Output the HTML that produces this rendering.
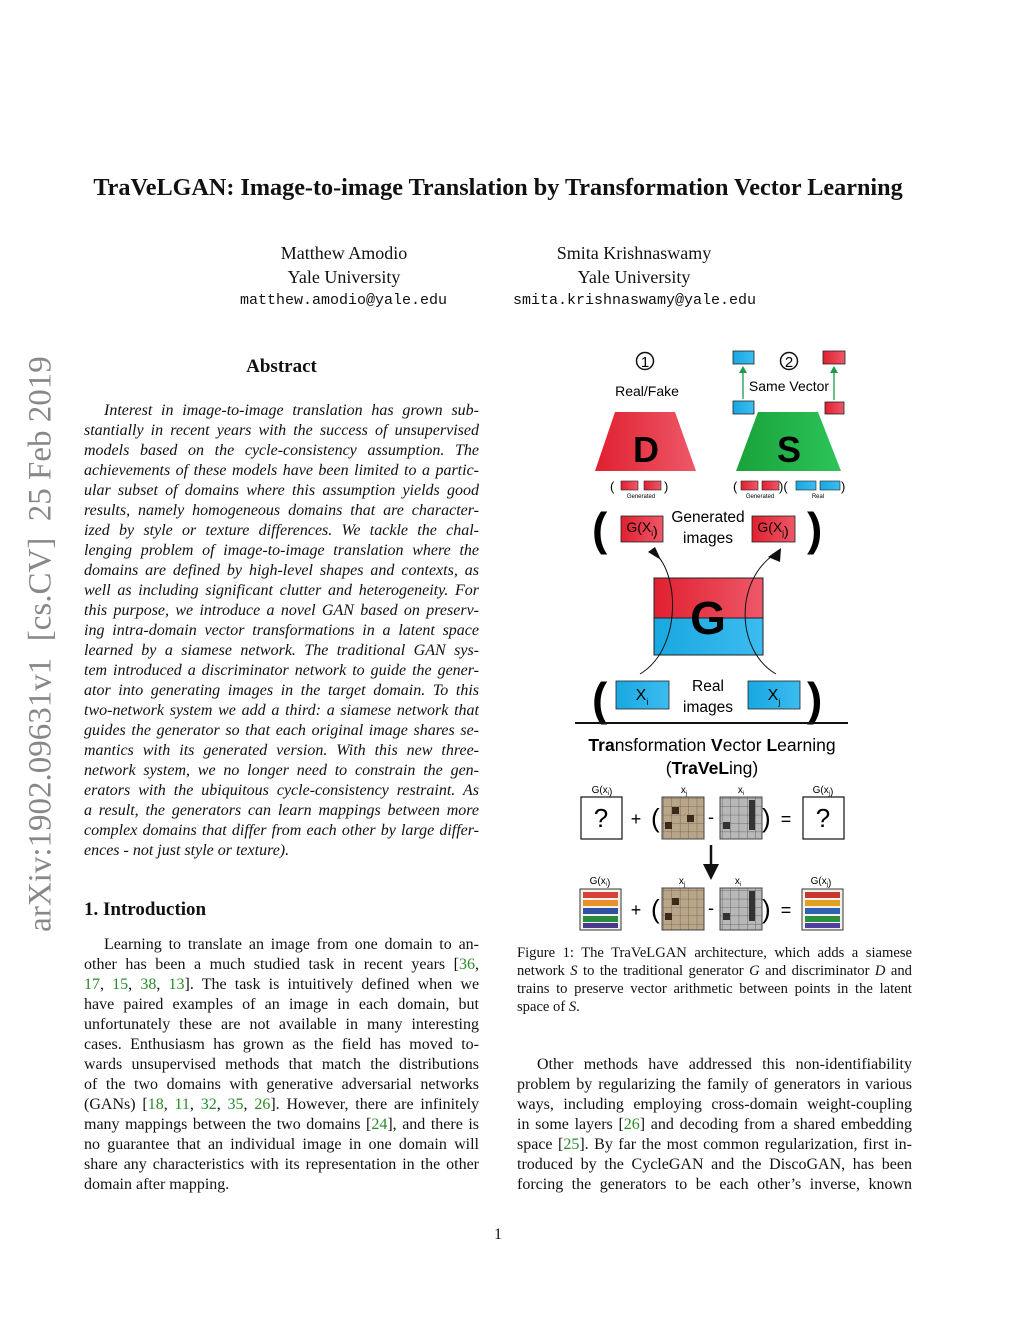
<!DOCTYPE html>
<html><head><meta charset="utf-8"><style>
body{margin:0;background:#fff;}
#p{position:relative;width:1024px;height:1325px;overflow:hidden;font-family:"Liberation Serif",serif;color:#111;}
.a{position:absolute;white-space:nowrap;}
.l{position:absolute;width:395px;font-size:16px;line-height:20px;height:20px;text-align:justify;text-align-last:justify;white-space:nowrap;}
.l.e{text-align-last:left;}
.i{font-style:italic;}
.c{color:#2a8a2a;}
.cap{position:absolute;width:395px;font-size:14.6px;line-height:18px;text-align:justify;text-align-last:justify;white-space:nowrap;}
.cap.e{text-align-last:left;}
</style></head><body><div id="p">
<div class="a" style="left:0;width:996px;text-align:center;top:174px;font-size:24.2px;font-weight:bold;">TraVeLGAN: Image-to-image Translation by Transformation Vector Learning</div>
<div class="a" style="left:244px;width:200px;text-align:center;top:241px;font-size:18px;line-height:24px;">Matthew Amodio<br>Yale University</div>
<div class="a" style="left:534px;width:200px;text-align:center;top:241px;font-size:18px;line-height:24px;">Smita Krishnaswamy<br>Yale University</div>
<div class="a" style="left:240px;top:292px;font-family:'Liberation Mono',monospace;font-size:15px;">matthew.amodio@yale.edu</div>
<div class="a" style="left:513px;top:292px;font-family:'Liberation Mono',monospace;font-size:15px;">smita.krishnaswamy@yale.edu</div>
<div class="a" style="left:41px;top:644px;transform:translate(-50%,-50%) rotate(-90deg);font-size:33px;color:#888;">arXiv:1902.09631v1&nbsp; [cs.CV]&nbsp; 25 Feb 2019</div>

<div class="a" style="left:84px;width:395px;text-align:center;top:356px;font-size:19px;font-weight:bold;">Abstract</div>
<div class="i">
<div class="l" style="left:84px;top:401px;padding-left:20px;width:375px;">Interest in image-to-image translation has grown sub-</div>
<div class="l" style="left:84px;top:421px;">stantially in recent years with the success of unsupervised</div>
<div class="l" style="left:84px;top:441px;">models based on the cycle-consistency assumption. The</div>
<div class="l" style="left:84px;top:461px;">achievements of these models have been limited to a partic-</div>
<div class="l" style="left:84px;top:481px;">ular subset of domains where this assumption yields good</div>
<div class="l" style="left:84px;top:501px;">results, namely homogeneous domains that are character-</div>
<div class="l" style="left:84px;top:521px;">ized by style or texture differences. We tackle the chal-</div>
<div class="l" style="left:84px;top:541px;">lenging problem of image-to-image translation where the</div>
<div class="l" style="left:84px;top:561px;">domains are defined by high-level shapes and contexts, as</div>
<div class="l" style="left:84px;top:581px;">well as including significant clutter and heterogeneity. For</div>
<div class="l" style="left:84px;top:601px;">this purpose, we introduce a novel GAN based on preserv-</div>
<div class="l" style="left:84px;top:621px;">ing intra-domain vector transformations in a latent space</div>
<div class="l" style="left:84px;top:641px;">learned by a siamese network. The traditional GAN sys-</div>
<div class="l" style="left:84px;top:661px;">tem introduced a discriminator network to guide the gener-</div>
<div class="l" style="left:84px;top:681px;">ator into generating images in the target domain. To this</div>
<div class="l" style="left:84px;top:701px;">two-network system we add a third: a siamese network that</div>
<div class="l" style="left:84px;top:721px;">guides the generator so that each original image shares se-</div>
<div class="l" style="left:84px;top:741px;">mantics with its generated version. With this new three-</div>
<div class="l" style="left:84px;top:761px;">network system, we no longer need to constrain the gen-</div>
<div class="l" style="left:84px;top:781px;">erators with the ubiquitous cycle-consistency restraint. As</div>
<div class="l" style="left:84px;top:801px;">a result, the generators can learn mappings between more</div>
<div class="l" style="left:84px;top:821px;">complex domains that differ from each other by large differ-</div>
<div class="l e" style="left:84px;top:841px;">ences - not just style or texture).</div>
</div>

<div class="a" style="left:84px;top:899px;font-size:19px;font-weight:bold;">1. Introduction</div>
<div class="l" style="left:84px;top:935px;padding-left:20px;width:375px;">Learning to translate an image from one domain to an-</div>
<div class="l" style="left:84px;top:955px;">other has been a much studied task in recent years [<span class="c">36</span>,</div>
<div class="l" style="left:84px;top:975px;"><span class="c">17</span>, <span class="c">15</span>, <span class="c">38</span>, <span class="c">13</span>]. The task is intuitively defined when we</div>
<div class="l" style="left:84px;top:995px;">have paired examples of an image in each domain, but</div>
<div class="l" style="left:84px;top:1015px;">unfortunately these are not available in many interesting</div>
<div class="l" style="left:84px;top:1035px;">cases. Enthusiasm has grown as the field has moved to-</div>
<div class="l" style="left:84px;top:1055px;">wards unsupervised methods that match the distributions</div>
<div class="l" style="left:84px;top:1075px;">of the two domains with generative adversarial networks</div>
<div class="l" style="left:84px;top:1095px;">(GANs) [<span class="c">18</span>, <span class="c">11</span>, <span class="c">32</span>, <span class="c">35</span>, <span class="c">26</span>]. However, there are infinitely</div>
<div class="l" style="left:84px;top:1115px;">many mappings between the two domains [<span class="c">24</span>], and there is</div>
<div class="l" style="left:84px;top:1135px;">no guarantee that an individual image in one domain will</div>
<div class="l" style="left:84px;top:1155px;">share any characteristics with its representation in the other</div>
<div class="l e" style="left:84px;top:1175px;">domain after mapping.</div>

<div class="cap" style="left:517px;top:944px;">Figure 1: The TraVeLGAN architecture, which adds a siamese</div>
<div class="cap" style="left:517px;top:962px;">network <i>S</i> to the traditional generator <i>G</i> and discriminator <i>D</i> and</div>
<div class="cap" style="left:517px;top:980px;">trains to preserve vector arithmetic between points in the latent</div>
<div class="cap e" style="left:517px;top:998px;">space of <i>S</i>.</div>

<div class="l" style="left:517px;top:1055px;padding-left:20px;width:375px;">Other methods have addressed this non-identifiability</div>
<div class="l" style="left:517px;top:1075px;">problem by regularizing the family of generators in various</div>
<div class="l" style="left:517px;top:1095px;">ways, including employing cross-domain weight-coupling</div>
<div class="l" style="left:517px;top:1115px;">in some layers [<span class="c">26</span>] and decoding from a shared embedding</div>
<div class="l" style="left:517px;top:1135px;">space [<span class="c">25</span>]. By far the most common regularization, first in-</div>
<div class="l" style="left:517px;top:1155px;">troduced by the CycleGAN and the DiscoGAN, has been</div>
<div class="l" style="left:517px;top:1175px;">forcing the generators to be each other’s inverse, known</div>
<div class="a" style="left:494px;top:1226px;font-size:16px;">1</div>

<svg class="a" style="left:0;top:0" width="1024" height="1325" viewBox="0 0 1024 1325" font-family="Liberation Sans, sans-serif">
<defs>
<linearGradient id="r" x1="0" x2="1"><stop offset="0" stop-color="#e02030"/><stop offset="1" stop-color="#ee5868"/></linearGradient>
<linearGradient id="b" x1="0" x2="1"><stop offset="0" stop-color="#18a8e0"/><stop offset="1" stop-color="#3cbcf0"/></linearGradient>
<linearGradient id="g" x1="0" x2="1"><stop offset="0" stop-color="#19a23a"/><stop offset="1" stop-color="#2cc45a"/></linearGradient>
<pattern id="tile" width="8.4" height="8.4" patternUnits="userSpaceOnUse"><rect width="8.4" height="8.4" fill="#b9a58a"/><path d="M0 0H8.4V8.4" fill="none" stroke="#6e5c48" stroke-width="0.8"/></pattern>
<pattern id="tile2" width="8.4" height="8.4" patternUnits="userSpaceOnUse"><rect width="8.4" height="8.4" fill="#b8b8b8"/><path d="M0 0H8.4V8.4" fill="none" stroke="#555" stroke-width="0.8"/></pattern>
</defs>
<circle cx="645" cy="361" r="8.5" fill="none" stroke="#111" stroke-width="1.5"/><text x="645" y="367" font-size="15" text-anchor="middle">1</text>
<circle cx="789" cy="361" r="8.5" fill="none" stroke="#111" stroke-width="1.5"/><text x="789" y="367" font-size="15" text-anchor="middle">2</text>
<text x="647" y="396" font-size="14" text-anchor="middle">Real/Fake</text>
<text x="789" y="391" font-size="14" text-anchor="middle">Same Vector</text>
<rect x="733" y="351" width="21" height="13" fill="url(#b)" stroke="#222" stroke-width="0.8"/>
<rect x="733" y="401" width="21" height="13" fill="url(#b)" stroke="#222" stroke-width="0.8"/>
<rect x="823" y="351" width="22" height="13" fill="url(#r)" stroke="#222" stroke-width="0.8"/>
<rect x="825" y="402" width="19" height="12" fill="url(#r)" stroke="#222" stroke-width="0.8"/>
<path d="M743 399V372M834 400V372" stroke="#1a9a4a" stroke-width="1.3"/>
<path d="M739 373L743 366L747 373ZM830 373L834 366L838 373Z" fill="#1a9a4a"/>
<path d="M615 412H675L696 471H595Z" fill="url(#r)"/>
<text x="646" y="462" font-size="36" font-weight="bold" text-anchor="middle">D</text>
<path d="M758 412H818L841 471H736Z" fill="url(#g)"/>
<text x="789" y="462" font-size="36" font-weight="bold" text-anchor="middle">S</text>
<g font-size="13">
<text x="610" y="491">(</text><text x="664" y="491">)</text>
<text x="733" y="491">(</text><text x="779" y="491">)(</text><text x="841" y="491">)</text></g>
<rect x="621" y="481" width="17" height="9" fill="url(#r)" stroke="#222" stroke-width="0.6"/>
<rect x="644" y="481" width="17" height="9" fill="url(#r)" stroke="#222" stroke-width="0.6"/>
<rect x="741" y="481" width="17" height="9" fill="url(#r)" stroke="#222" stroke-width="0.6"/>
<rect x="762" y="481" width="17" height="9" fill="url(#r)" stroke="#222" stroke-width="0.6"/>
<rect x="796" y="481" width="20" height="9" fill="url(#b)" stroke="#222" stroke-width="0.6"/>
<rect x="820" y="481" width="20" height="9" fill="url(#b)" stroke="#222" stroke-width="0.6"/>
<g font-size="6" text-anchor="middle"><text x="641" y="498">Generated</text><text x="760" y="498">Generated</text><text x="818" y="498">Real</text></g>
<g font-size="46" font-weight="bold" font-family="Liberation Sans, sans-serif"><text x="592" y="545">(</text><text x="807" y="545">)</text><text x="592" y="715">(</text><text x="807" y="715">)</text></g>
<rect x="621" y="516" width="42" height="26" fill="url(#r)" stroke="#222" stroke-width="0.8"/>
<rect x="752" y="516" width="43" height="26" fill="url(#r)" stroke="#222" stroke-width="0.8"/>
<text x="642" y="532" font-size="14" text-anchor="middle">G(X<tspan font-size="8" dy="4">i</tspan>)</text>
<text x="773" y="532" font-size="14" text-anchor="middle">G(X<tspan font-size="8" dy="4">j</tspan>)</text>
<text x="708" y="522" font-size="15.5" text-anchor="middle">Generated</text>
<text x="708" y="543" font-size="15.5" text-anchor="middle">images</text>
<rect x="654" y="578" width="109" height="40" fill="url(#r)" stroke="#222" stroke-width="1"/>
<rect x="654" y="618" width="109" height="37" fill="url(#b)" stroke="#222" stroke-width="1"/>
<text x="708" y="634" font-size="46" font-weight="bold" text-anchor="middle">G</text>
<path d="M640 674C680 650 680 580 657 555M776 674C735 650 735 580 775 554" fill="none" stroke="#111" stroke-width="1"/>
<path d="M648 552L655 547L661 560ZM768 557L781 548L780 562Z" fill="#111"/>
<rect x="616" y="681" width="53" height="28" fill="url(#b)" stroke="#222" stroke-width="0.8"/>
<rect x="748" y="681" width="52" height="28" fill="url(#b)" stroke="#222" stroke-width="0.8"/>
<text x="642" y="700" font-size="16" text-anchor="middle">X<tspan font-size="9" dy="5">i</tspan></text>
<text x="774" y="700" font-size="16" text-anchor="middle">X<tspan font-size="9" dy="5">j</tspan></text>
<text x="708" y="691" font-size="15.5" text-anchor="middle">Real</text>
<text x="708" y="712" font-size="15.5" text-anchor="middle">images</text>
<path d="M575 723H848" stroke="#111" stroke-width="2"/>
<text x="712" y="751" font-size="17.5" text-anchor="middle"><tspan font-weight="bold">Tra</tspan>nsformation <tspan font-weight="bold">V</tspan>ector <tspan font-weight="bold">L</tspan>earning</text>
<text x="712" y="774" font-size="17.5" text-anchor="middle">(<tspan font-weight="bold">TraVeL</tspan>ing)</text>
<g font-size="10" text-anchor="middle"><text x="602" y="793">G(x<tspan font-size="6" dy="2">i</tspan>)</text><text x="684" y="793">x<tspan font-size="6" dy="2">j</tspan></text><text x="741" y="793">x<tspan font-size="6" dy="2">i</tspan></text><text x="823" y="793">G(x<tspan font-size="6" dy="2">j</tspan>)</text>
<text x="600" y="884">G(x<tspan font-size="6" dy="2">i</tspan>)</text><text x="682" y="884">x<tspan font-size="6" dy="2">j</tspan></text><text x="738" y="884">x<tspan font-size="6" dy="2">i</tspan></text><text x="821" y="884">G(x<tspan font-size="6" dy="2">j</tspan>)</text></g>
<rect x="581" y="797" width="41" height="42" fill="#fff" stroke="#111" stroke-width="1.2"/>
<rect x="803" y="797" width="41" height="42" fill="#fff" stroke="#111" stroke-width="1.2"/>
<text x="601" y="827" font-size="26" text-anchor="middle">?</text><text x="823" y="827" font-size="26" text-anchor="middle">?</text>
<rect x="662" y="797" width="42" height="42" fill="url(#tile)" stroke="#444"/>
<rect x="720" y="797" width="42" height="42" fill="url(#tile2)" stroke="#444"/>
<rect x="662" y="888" width="42" height="42" fill="url(#tile)" stroke="#444"/>
<rect x="720" y="888" width="42" height="42" fill="url(#tile2)" stroke="#444"/>
<g fill="#3a2a1a"><rect x="672" y="807" width="7" height="7"/><rect x="687" y="815" width="7" height="7"/><rect x="665" y="822" width="7" height="7"/><rect x="672" y="898" width="7" height="7"/><rect x="665" y="913" width="7" height="7"/></g>
<g fill="#333"><rect x="749" y="800" width="6" height="30"/><rect x="723" y="822" width="7" height="7"/><rect x="749" y="891" width="6" height="30"/><rect x="723" y="913" width="7" height="7"/></g>
<g font-size="18" text-anchor="middle"><text x="636" y="825">+</text><text x="636" y="916">+</text><text x="711" y="823">-</text><text x="711" y="914">-</text><text x="786" y="825">=</text><text x="786" y="916">=</text></g>
<g font-size="26"><text x="651" y="827">(</text><text x="762" y="827">)</text><text x="651" y="918">(</text><text x="762" y="918">)</text></g>
<path d="M711 845V866" stroke="#111" stroke-width="2.5"/><path d="M703 864H719L711 880Z" fill="#111"/>
<g stroke="#333"><rect x="580" y="889" width="41" height="41" fill="#f4f0ea"/><rect x="802" y="889" width="41" height="41" fill="#f4f0ea"/></g>
<g>
<rect x="583" y="892" width="35" height="6" fill="#d8403a"/><rect x="583" y="900" width="35" height="6" fill="#e8902a"/><rect x="583" y="908" width="35" height="6" fill="#3050a0"/><rect x="583" y="916" width="35" height="6" fill="#2a8a40"/><rect x="583" y="923" width="35" height="5" fill="#4a3a8a"/>
<rect x="805" y="892" width="35" height="6" fill="#c83830"/><rect x="805" y="900" width="35" height="6" fill="#e0a020"/><rect x="805" y="908" width="35" height="6" fill="#3060b0"/><rect x="805" y="916" width="35" height="6" fill="#2a9040"/><rect x="805" y="923" width="35" height="5" fill="#5040a0"/>
</g>
</svg>
</div></body></html>
